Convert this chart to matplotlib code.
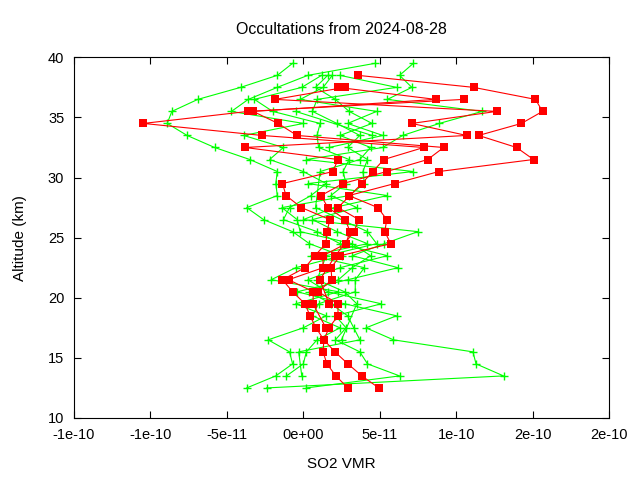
import numpy as np
import matplotlib
matplotlib.use("Agg")
import matplotlib.pyplot as plt

nan = np.nan

# altitudes (km) of the retrieval levels
altitudes = [12.5, 13.5, 14.5, 15.5, 16.5, 17.5, 18.5, 19.5, 20.5, 21.5,
             22.5, 23.5, 24.5, 25.5, 26.5, 27.5, 28.5, 29.5, 30.5, 31.5,
             32.5, 33.5, 34.5, 35.5, 36.5, 37.5, 38.5, 39.5]

# green profiles, SO2 VMR in units of 1e-11, one row per altitude, one column per profile
green_vmr = [
    [-3.7, -2.4, 0.2, nan, nan, nan, nan, nan],
    [-1.8, 13.1, 6.3, -1.1, -0.1, nan, nan, nan],
    [-0.7, 11.3, 4.2, 0.0, nan, nan, nan, nan],
    [-0.9, 11.1, 3.7, 0.2, -0.3, nan, nan, nan],
    [-2.3, 5.9, 2.1, 0.9, 3.7, 2.5, nan, nan],
    [0.0, 4.1, 2.8, 2.4, 3.3, nan, nan, nan],
    [1.5, 6.1, 2.1, 0.6, 2.9, nan, nan, nan],
    [-0.5, 2.7, 5.1, 1.0, 1.8, 3.5, nan, nan],
    [2.3, -0.4, 1.6, 3.4, 0.4, 2.7, nan, nan],
    [-2.1, 2.9, 0.3, 3.4, 2.3, 0.9, nan, nan],
    [-0.5, 6.2, 2.4, 4.0, 3.2, nan, nan, nan],
    [2.5, 3.2, 5.5, 0.5, 4.4, 1.5, nan, nan],
    [0.4, 5.3, 2.4, 4.2, 3.2, 4.8, nan, nan],
    [-0.7, 7.5, 0.9, 2.2, -0.2, 4.2, nan, nan],
    [-2.6, 0.0, -1.3, 0.6, -0.4, nan, nan, nan],
    [-3.7, 2.0, -0.9, 3.5, -1.4, 0.8, nan, nan],
    [-1.7, 5.5, 0.5, 1.8, 3.0, nan, nan, nan],
    [-1.8, 0.3, 1.5, 2.8, 4.0, nan, nan, nan],
    [-1.7, 7.2, 0.0, 2.6, 3.9, 1.1, nan, nan],
    [-3.5, 0.2, -2.2, 3.0, 4.2, 3.7, nan, nan],
    [-5.8, 5.2, -1.3, 1.0, 2.9, 4.4, 1.7, nan],
    [-7.6, 6.5, -3.9, 0.9, 3.7, 2.4, 5.2, 4.5],
    [-8.9, 8.9, 0.0, 1.1, 2.2, 4.5, 2.9, nan],
    [-8.6, 11.7, -4.7, -2.0, 0.6, 3.0, 4.8, -0.5],
    [-6.9, 5.5, -3.6, -3.2, 0.9, 2.1, -0.2, nan],
    [-4.1, 7.1, -1.7, -0.1, 6.1, 0.8, 1.3, nan],
    [-1.7, 6.3, 0.3, 1.2, 2.4, 1.6, 1.9, nan],
    [-0.7, 7.2, 4.7, nan, nan, nan, nan, nan],
]

# red profiles, same layout (4 profiles)
red_vmr = [
    [4.94, 2.92, nan, nan],
    [3.83, 2.13, nan, nan],
    [2.92, 1.55, nan, nan],
    [2.07, 1.29, nan, nan],
    [1.35, 1.35, nan, nan],
    [1.68, 0.83, 1.48, nan],
    [2.27, 0.44, nan, nan],
    [2.27, 0.11, 0.63, 1.68],
    [0.98, -0.70, 0.66, nan],
    [1.87, -1.36, -0.96, 1.09],
    [1.81, 0.11, 1.29, nan],
    [2.43, 0.76, 1.29, 2.10],
    [5.72, 1.48, 2.79, nan],
    [5.33, 1.55, 3.05, 3.31],
    [5.46, 1.74, 2.76, 3.64],
    [4.88, -0.12, 1.61, 2.27],
    [2.98, -1.13, 1.16, nan],
    [5.98, -1.36, 2.59, 3.83],
    [8.87, 1.94, 5.46, 4.55],
    [15.06, 2.27, 8.14, 5.27],
    [13.95, -3.81, 9.18, 7.88],
    [11.47, 10.68, -0.41, -2.70],
    [14.27, 7.10, -1.65, -10.46],
    [15.65, 12.64, -3.28, -3.61],
    [15.19, -1.85, 8.66, 10.49],
    [11.14, 2.72, 2.27, nan],
    [3.57, nan, nan, nan],
    [nan, nan, nan, nan],
]

xtick_values = [-1.5e-10, -1e-10, -5e-11, 0, 5e-11, 1e-10, 1.5e-10, 2e-10]
xtick_labels = ['-1e-10', '-1e-10', '-5e-11', '0e+00', '5e-11', '1e-10', '2e-10', '2e-10']
ytick_values = [10, 15, 20, 25, 30, 35, 40]

plt.rcParams['font.family'] = ['Liberation Sans', 'DejaVu Sans']
fig = plt.figure(figsize=(6.4, 4.8), dpi=100)
ax = fig.add_axes([0.1156, 0.1292, 0.836, 0.7514])

alt = np.array(altitudes)
g = np.array(green_vmr) * 1e-11
r = np.array(red_vmr) * 1e-11

for j in range(g.shape[1]):
    ok = ~np.isnan(g[:, j])
    ax.plot(g[ok, j], alt[ok], color='#00ff00', lw=0.8, marker='+',
            markersize=5.5, markeredgewidth=1.0)

for j in range(r.shape[1]):
    ok = ~np.isnan(r[:, j])
    ax.plot(r[ok, j], alt[ok], color='#ff0000', lw=0.8, marker='s',
            markersize=5.2, markeredgewidth=0)

ax.set_xlim(-1.5e-10, 2e-10)
ax.set_ylim(10, 40)
ax.set_xticks(xtick_values)
ax.set_xticklabels(xtick_labels)
ax.set_yticks(ytick_values)
ax.tick_params(direction='in', top=True, right=True, length=5, labelsize=10.5, pad=7)
ax.set_title('Occultations from 2024-08-28', fontsize=11.5, pad=17)
ax.set_xlabel('SO2 VMR', fontsize=11, labelpad=11)
ax.set_ylabel('Altitude (km)', fontsize=11, labelpad=15)

fig.savefig('out.png', dpi=100)
